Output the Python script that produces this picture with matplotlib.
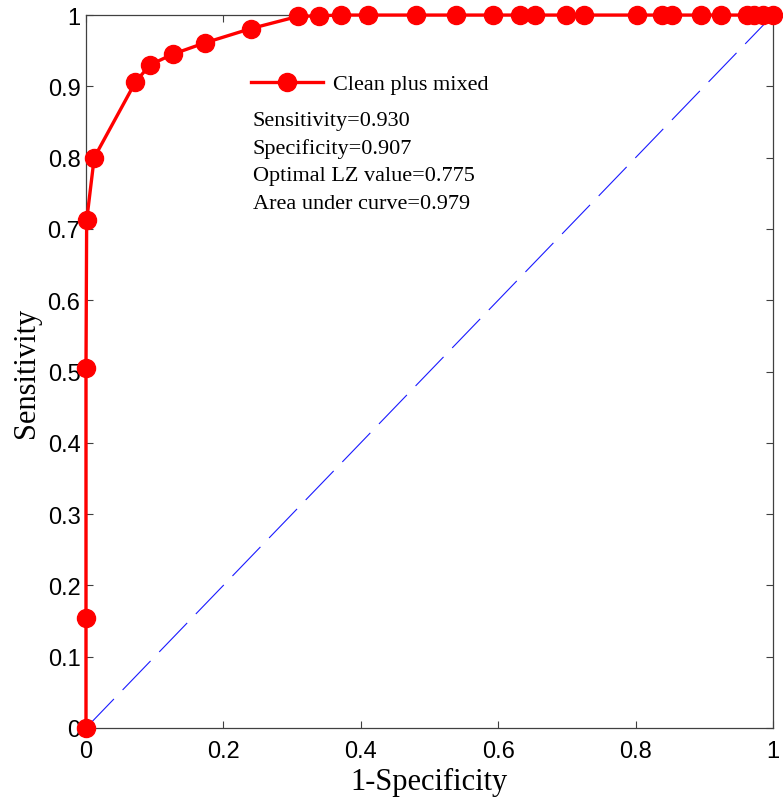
import matplotlib
matplotlib.use('Agg')
import matplotlib.pyplot as plt

# ROC curve
fpr = [0.0, 0.0, 0.0, 0.001, 0.012, 0.072, 0.093, 0.126, 0.173, 0.240,
       0.308, 0.339, 0.371, 0.410, 0.480, 0.539, 0.592, 0.632, 0.653,
       0.698, 0.725, 0.802, 0.839, 0.853, 0.895, 0.925, 0.962, 0.972,
       0.986, 1.0]
tpr = [0.0, 0.154, 0.505, 0.712, 0.800, 0.906, 0.930, 0.945, 0.961, 0.981,
       0.998, 0.999, 1.0, 1.0, 1.0, 1.0, 1.0, 1.0, 1.0,
       1.0, 1.0, 1.0, 1.0, 1.0, 1.0, 1.0, 1.0, 1.0,
       1.0, 1.0]
chance = [0.0, 1.0]

stats = ['Sensitivity=0.930', 'Specificity=0.907',
         'Optimal LZ value=0.775', 'Area under curve=0.979']
ticks = [0, 0.1, 0.2, 0.3, 0.4, 0.5, 0.6, 0.7, 0.8, 0.9, 1]
xticks = [0, 0.2, 0.4, 0.6, 0.8, 1]

serif = ['Liberation Serif', 'DejaVu Serif']
sans = ['Liberation Sans', 'DejaVu Sans']
plt.rcParams['lines.scale_dashes'] = False

fig = plt.figure(figsize=(7.83, 8.03), dpi=100)
ax = fig.add_axes([0.1098, 0.0922, 0.8774, 0.8878])

ax.plot(chance, chance, color='#1a1aff', lw=0.8, dashes=(29, 9), zorder=2)
ax.plot(fpr, tpr, color='#ff0000', lw=2.4, marker='o', markersize=13,
        label='Clean plus mixed', clip_on=False, zorder=3)

ax.set_xlim(0, 1)
ax.set_ylim(0, 1)
ax.set_xticks(xticks)
ax.set_yticks(ticks)
ax.set_xticklabels(['0', '0.2', '0.4', '0.6', '0.8', '1'], fontfamily=sans)
ax.set_yticklabels(['0', '0.1', '0.2', '0.3', '0.4', '0.5', '0.6', '0.7',
                    '0.8', '0.9', '1'], fontfamily=sans)
ax.tick_params(axis='both', direction='in', length=5, width=0.8,
               colors='#404040', labelcolor='black', labelsize=17,
               top=True, right=True)
ax.tick_params(axis='x', pad=9)
ax.tick_params(axis='y', pad=4)
for s in ax.spines.values():
    s.set_color('#404040')
    s.set_linewidth(0.9)

ax.set_xlabel('1-Specificity', fontfamily=serif, fontsize=22, labelpad=3)
ax.set_ylabel('Sensitivity', fontfamily=serif, fontsize=22, labelpad=5)

leg = ax.legend(loc='center left', bbox_to_anchor=(0.2397, 0.9032),
                frameon=False, borderpad=0, borderaxespad=0,
                handlelength=3.25, handletextpad=0.44,
                prop={'family': serif, 'size': 16})

ys = [0.8518, 0.8135, 0.7746, 0.7363]
for txt, yy in zip(stats, ys):
    ax.text(0.243, yy, txt, transform=ax.transAxes, ha='left', va='center',
            fontsize=16, fontfamily=serif)

fig.savefig('out.png', dpi=100)
